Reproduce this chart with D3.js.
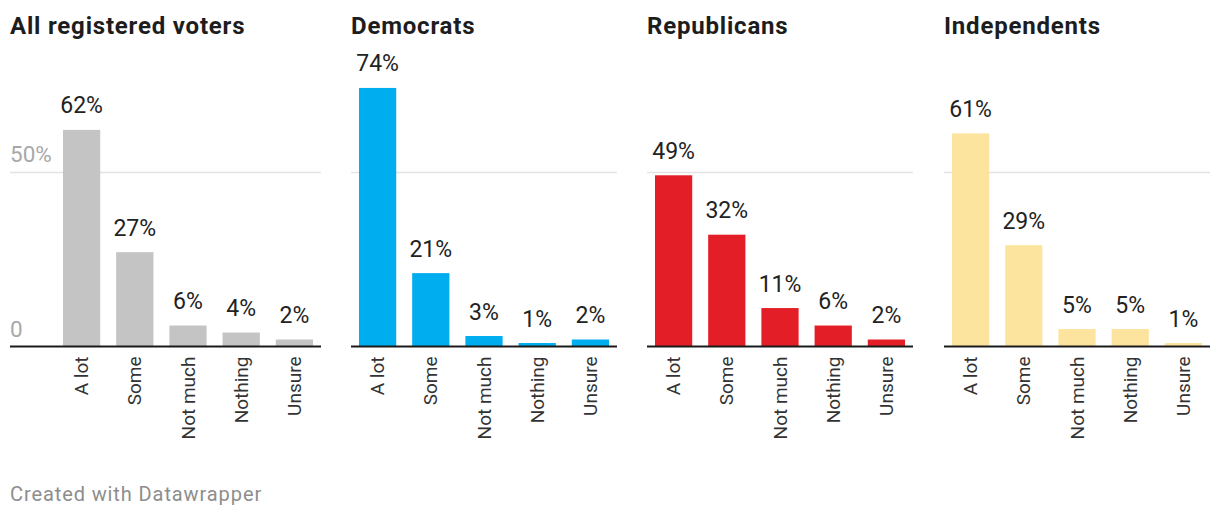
<!DOCTYPE html>
<html>
<head>
<meta charset="utf-8">
<script src="https://cdn.jsdelivr.net/npm/d3@7"></script>
<style>
  html, body { margin: 0; padding: 0; background: #fff; }
  svg { display: block; font-family: Roboto, 'Noto Sans', sans-serif; }
</style>
</head>
<body>
<svg id="chart" width="1220" height="520"></svg>
<script>
const categories = ['A lot', 'Some', 'Not much', 'Nothing', 'Unsure']
const groups = ['All registered voters', 'Democrats', 'Republicans', 'Independents']
const allVoters = [62, 27, 6, 4, 2]
const democrats = [74, 21, 3, 1, 2]
const republicans = [49, 32, 11, 6, 2]
const independents = [61, 29, 5, 5, 1]
const colors = ['#c4c4c4', '#00aeef', '#e41e26', '#fde49e']
const yTicks = [0, 50]
const series = [allVoters, democrats, republicans, independents]

// horizontal frame of each small multiple: where the axis starts, where bars start, where it ends
const panels = [
  { left: 10, plotLeft: 55, right: 321 },
  { left: 351, plotLeft: 351, right: 617 },
  { left: 647, plotLeft: 647, right: 913 },
  { left: 944, plotLeft: 944, right: 1210 },
]

const baseline = 346.5

const svg = d3.select('#chart')

const yScale = d3.scaleLinear().domain([0, 50]).range([baseline, 171.8])

panels.forEach((p, i) => {
  const g = svg.append('g')

  const xScale = d3
    .scaleBand()
    .domain(categories)
    .range([p.plotLeft, p.right])
    .paddingInner(0.3)
    .paddingOuter(0.15)

  const data = categories.map((c, j) => ({ label: c, value: series[i][j] }))

  g.append('text')
    .attr('x', p.left)
    .attr('y', 33.5)
    .attr('font-size', 24)
    .attr('font-weight', 700)
    .attr('letter-spacing', 0.8)
    .attr('fill', '#1d1d1d')
    .text(groups[i])

  // gridlines (the 0 line is covered by the baseline)
  g.append('g')
    .selectAll('line')
    .data(yTicks.filter(t => t > 0))
    .join('line')
    .attr('x1', p.left)
    .attr('x2', p.right)
    .attr('y1', d => Math.round(yScale(d)) + 0.5)
    .attr('y2', d => Math.round(yScale(d)) + 0.5)
    .attr('stroke', '#e3e3e3')
    .attr('stroke-width', 1.5)

  if (i === 0) {
    g.append('g')
      .selectAll('text')
      .data(yTicks)
      .join('text')
      .attr('x', p.left)
      .attr('y', d => yScale(d) - 10)
      .attr('font-size', 22.5)
      .attr('fill', '#a8a8a8')
      .text(d => (d === 0 ? '0' : d + '%'))
  }

  g.append('g')
    .selectAll('rect')
    .data(data)
    .join('rect')
    .attr('x', d => xScale(d.label))
    .attr('width', xScale.bandwidth())
    .attr('y', d => yScale(d.value))
    .attr('height', d => yScale(0) - yScale(d.value))
    .attr('fill', colors[i])

  g.append('g')
    .selectAll('text')
    .data(data)
    .join('text')
    .attr('x', d => xScale(d.label) + xScale.bandwidth() / 2)
    .attr('y', d => yScale(d.value) - 16.5)
    .attr('text-anchor', 'middle')
    .attr('font-size', 23)
    .attr('fill', '#222')
    .text(d => d.value + '%')

  g.append('line')
    .attr('x1', p.left)
    .attr('x2', p.right)
    .attr('y1', baseline)
    .attr('y2', baseline)
    .attr('stroke', '#1a1a1a')
    .attr('stroke-width', 2.2)

  g.append('g')
    .selectAll('text')
    .data(categories)
    .join('text')
    .attr(
      'transform',
      d => `translate(${xScale(d) + xScale.bandwidth() / 2}, 356.5) rotate(-90)`
    )
    .attr('text-anchor', 'end')
    .attr('dy', '0.35em')
    .attr('font-size', 19)
    .attr('fill', '#333')
    .text(d => d)
})

svg
  .append('text')
  .attr('x', 10)
  .attr('y', 501)
  .attr('font-size', 20)
  .attr('letter-spacing', 0.9)
  .attr('fill', '#8d8d8d')
  .text('Created with Datawrapper')
</script>
</body>
</html>
